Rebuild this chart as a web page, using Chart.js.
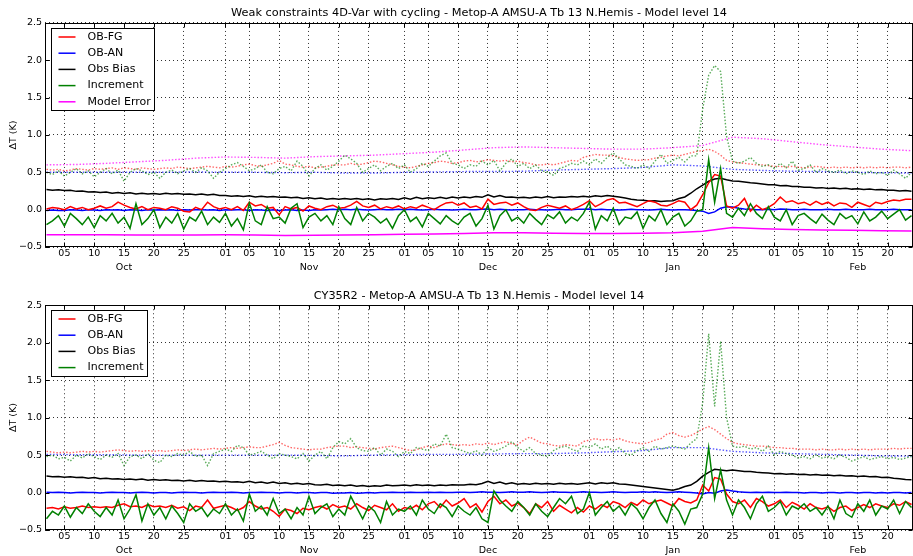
<!DOCTYPE html>
<html lang="en">
<head>
<meta charset="UTF-8">
<title>Metop-A AMSU-A Tb 13 N.Hemis - Model level 14</title>
<script src="https://cdn.jsdelivr.net/npm/chart.js"></script>
<style>
  body { margin: 0; background: #fff; }
  .panel { position: relative; width: 913px; height: 278px; }
</style>
</head>
<body>
<div class="panel"><canvas id="topChart"></canvas></div>
<div class="panel"><canvas id="bottomChart"></canvas></div>

<script>
// x values are days since 1 Oct (00 UTC); daily series run 2 Oct .. 24 Feb
const days = Array.from({length: 146}, (_, i) => i + 1);
// smooth series are read every 5 days
const coarseDays = Array.from({length: 30}, (_, i) => 1 + 5 * i);

const tickDays   = [4, 9, 14, 19, 24, 31, 35, 40, 45, 50, 55, 61, 65, 70, 75, 80, 85, 92, 96, 101, 106, 111, 116, 123, 127, 132, 137, 142];
const tickLabels = ["05","10","15","20","25","01","05","10","15","20","25","01","05","10","15","20","25","01","05","10","15","20","25","01","05","10","15","20"];
const monthDays  = [14, 45, 75, 106, 137];
const monthNames = ["Oct", "Nov", "Dec", "Jan", "Feb"];

const legendNamesTop    = ["OB-FG", "OB-AN", "Obs Bias", "Increment", "Model Error"];
const legendNamesBottom = ["OB-FG", "OB-AN", "Obs Bias", "Increment"];

// ---- top panel: weak constraints 4D-Var with cycling ----
const topObFgMean = [
  0.01,0.03,0.02,0.0,0.04,0.01,0.03,0.0,0.02,0.05,
  0.02,0.04,0.1,0.06,0.03,0.01,0.04,0.0,0.03,0.02,
  0.0,0.04,0.02,-0.02,-0.03,0.03,0.0,0.1,0.04,0.01,
  0.03,0.0,0.04,-0.01,0.1,0.05,0.07,0.02,0.03,-0.07,
  0.04,0.01,0.03,-0.02,0.05,0.02,0.0,0.04,0.06,0.02,
  0.03,0.06,0.11,0.05,0.03,0.06,0.01,0.04,0.02,0.05,
  0.01,0.04,0.02,0.06,0.03,0.0,0.05,0.09,0.1,0.06,
  0.09,0.03,0.05,0.01,0.14,0.07,0.09,0.1,0.06,0.09,
  0.04,0.0,-0.01,0.03,0.06,0.04,0.02,0.05,0.0,0.03,
  0.07,0.12,0.04,0.08,0.13,0.15,0.09,0.1,0.07,0.04,
  0.08,0.12,0.1,0.06,0.05,0.08,0.12,0.1,0.0,0.06,
  0.2,0.36,0.47,0.45,0.05,0.02,0.06,0.15,-0.02,0.06,
  0.0,0.03,0.08,0.17,0.1,0.12,0.08,0.1,0.06,0.11,
  0.07,0.1,0.05,0.09,0.08,0.03,0.1,0.07,0.04,0.1,
  0.08,0.11,0.13,0.12,0.14,0.14
];
const topObFgStd = [
  0.54,0.53,0.54,0.52,0.53,0.55,0.54,0.53,0.55,0.54,
  0.55,0.56,0.54,0.56,0.55,0.54,0.56,0.55,0.54,0.55,
  0.56,0.55,0.57,0.56,0.55,0.56,0.57,0.58,0.57,0.56,
  0.58,0.57,0.58,0.6,0.61,0.59,0.58,0.6,0.62,0.66,
  0.61,0.6,0.58,0.57,0.58,0.56,0.57,0.58,0.6,0.6,
  0.6,0.62,0.6,0.61,0.63,0.65,0.64,0.62,0.6,0.58,
  0.57,0.56,0.58,0.6,0.62,0.63,0.65,0.64,0.62,0.63,
  0.65,0.66,0.64,0.65,0.67,0.66,0.65,0.66,0.64,0.65,
  0.63,0.62,0.6,0.6,0.61,0.6,0.62,0.64,0.66,0.65,
  0.7,0.72,0.74,0.73,0.73,0.72,0.7,0.68,0.67,0.66,
  0.665,0.67,0.69,0.7,0.72,0.73,0.72,0.74,0.76,0.78,
  0.79,0.81,0.78,0.73,0.66,0.64,0.63,0.62,0.61,0.6,
  0.6,0.59,0.58,0.58,0.57,0.58,0.57,0.56,0.57,0.58,
  0.57,0.56,0.57,0.56,0.57,0.56,0.57,0.56,0.57,0.56,
  0.57,0.56,0.57,0.57,0.56,0.57
];
const topObAnMean = [
  -0.01,-0.005,-0.01,-0.01,0,-0.005,-0.01,0,-0.005,-0.01,
  0,-0.005,0,-0.01,0,-0.005,-0.01,0,-0.005,0,
  -0.005,0,-0.01,0,-0.005,0,0,-0.005,0,-0.01,
  0,-0.005,0,0,-0.01,0,-0.005,-0.01,0,-0.01,
  -0.005,0,-0.01,-0.005,-0.01,0,-0.005,0,0.005,0,
  0.005,0,0.005,0,-0.005,0,0.005,0,0,0.005,
  0,0.005,0,-0.005,0,0.005,0,0,-0.005,0,
  0.005,0,0,0.005,0.01,0,0.005,0,-0.005,0,
  0,0.005,0,0,-0.005,0,0.005,0,0,0.005,
  0.005,0.01,0,0.005,0,0,-0.005,0,0.005,0,
  0,-0.005,0,0.005,0,-0.005,0,0,-0.005,-0.01,
  -0.02,-0.05,-0.03,0.02,0.04,0.035,0.02,0.01,0.005,0,
  0,0.005,0,0.01,0.005,0,0,0.005,0,0,
  0,0.005,0,0,0.005,0,0,0,0.005,0,
  0,0,0.005,0,0,0
];
const topObAnStd = [
  0.5,0.5,0.5,0.5,0.5,0.505,0.5,0.5,0.495,0.5,
  0.49,0.49,0.5,0.505,0.51,0.51,0.515,0.53,0.54,0.55,
  0.565,0.6,0.585,0.54,0.525,0.515,0.51,0.5,0.495,0.49
];
const topObsBias = [
  0.27,0.26,0.265,0.255,0.26,0.245,0.25,0.235,0.24,0.23,
  0.235,0.22,0.23,0.215,0.225,0.21,0.22,0.21,0.215,0.205,
  0.22,0.21,0.215,0.205,0.21,0.2,0.21,0.195,0.205,0.19,
  0.19,0.18,0.185,0.175,0.185,0.17,0.18,0.17,0.175,0.165,
  0.17,0.16,0.165,0.15,0.16,0.145,0.155,0.14,0.15,0.14,
  0.15,0.14,0.15,0.135,0.145,0.13,0.145,0.14,0.15,0.135,
  0.16,0.14,0.165,0.145,0.16,0.15,0.165,0.15,0.17,0.155,
  0.17,0.16,0.175,0.165,0.2,0.17,0.19,0.165,0.17,0.16,
  0.165,0.155,0.17,0.16,0.175,0.16,0.17,0.165,0.175,0.17,
  0.18,0.17,0.185,0.175,0.19,0.18,0.17,0.155,0.14,0.13,
  0.125,0.115,0.12,0.11,0.115,0.12,0.15,0.17,0.22,0.28,
  0.33,0.38,0.41,0.42,0.4,0.385,0.38,0.37,0.36,0.355,
  0.345,0.335,0.335,0.32,0.325,0.31,0.31,0.3,0.3,0.29,
  0.295,0.285,0.29,0.28,0.285,0.275,0.28,0.27,0.275,0.265,
  0.27,0.26,0.26,0.25,0.255,0.245
];
const topIncMean = [
  -0.2,-0.15,-0.08,-0.22,-0.05,-0.12,-0.2,-0.1,-0.24,-0.08,
  -0.15,-0.05,-0.18,-0.1,-0.25,0.08,-0.2,-0.12,0.0,-0.24,
  -0.1,-0.18,-0.05,-0.26,-0.1,-0.15,-0.02,-0.2,-0.1,-0.17,
  -0.05,-0.22,-0.12,-0.27,0.09,-0.15,-0.2,0.04,-0.12,-0.1,
  -0.18,0.02,0.08,-0.24,-0.1,-0.05,-0.15,-0.08,-0.2,0.04,
  -0.12,-0.2,0.03,-0.15,-0.05,-0.1,-0.18,-0.12,-0.25,-0.08,
  0.0,-0.16,-0.1,-0.23,-0.05,-0.12,-0.19,-0.08,-0.15,-0.2,
  -0.1,-0.05,-0.22,-0.12,0.06,-0.26,-0.08,0.0,-0.15,-0.1,
  -0.18,-0.05,-0.13,-0.2,-0.07,-0.12,-0.03,-0.18,-0.1,-0.15,
  -0.05,0.1,-0.26,-0.08,-0.15,0.02,-0.2,-0.1,-0.12,-0.03,
  -0.25,-0.08,-0.15,0.0,-0.2,-0.1,-0.05,-0.22,-0.15,-0.02,
  0.0,0.67,0.1,0.55,-0.05,-0.1,0.02,-0.08,0.08,-0.05,
  -0.12,0.04,-0.1,-0.15,0.0,-0.2,-0.08,-0.05,-0.12,-0.18,
  -0.06,-0.14,-0.2,-0.05,-0.12,-0.08,-0.19,-0.03,-0.15,-0.1,
  -0.02,-0.12,-0.06,0.0,-0.14,-0.08
];
const topIncStd = [
  0.5,0.47,0.52,0.45,0.5,0.55,0.48,0.52,0.44,0.5,
  0.55,0.48,0.53,0.38,0.5,0.55,0.52,0.47,0.5,0.42,
  0.5,0.53,0.48,0.52,0.55,0.5,0.56,0.52,0.42,0.5,
  0.55,0.6,0.63,0.58,0.52,0.55,0.6,0.5,0.48,0.55,
  0.58,0.52,0.65,0.58,0.45,0.55,0.6,0.53,0.58,0.65,
  0.73,0.68,0.62,0.5,0.55,0.6,0.52,0.58,0.62,0.55,
  0.6,0.5,0.55,0.62,0.58,0.65,0.72,0.76,0.62,0.6,
  0.55,0.6,0.58,0.65,0.6,0.66,0.52,0.62,0.68,0.58,
  0.62,0.55,0.6,0.52,0.5,0.46,0.55,0.58,0.62,0.6,
  0.65,0.6,0.68,0.62,0.7,0.76,0.68,0.6,0.58,0.55,
  0.6,0.55,0.65,0.74,0.62,0.66,0.7,0.64,0.72,0.72,
  1.35,1.8,1.93,1.85,0.98,0.65,0.62,0.65,0.7,0.62,
  0.58,0.6,0.55,0.62,0.56,0.65,0.53,0.55,0.6,0.5,
  0.55,0.52,0.5,0.53,0.48,0.52,0.5,0.47,0.52,0.48,
  0.5,0.46,0.53,0.48,0.42,0.5
];
const topModErrMean = [
  -0.335,-0.335,-0.337,-0.34,-0.34,-0.338,-0.335,-0.34,-0.345,-0.342,
  -0.338,-0.335,-0.33,-0.325,-0.318,-0.31,-0.31,-0.315,-0.318,-0.32,
  -0.315,-0.31,-0.29,-0.24,-0.255,-0.265,-0.272,-0.277,-0.282,-0.285
];
const topModErrStd = [
  0.6,0.605,0.62,0.64,0.66,0.69,0.705,0.7,0.69,0.71,
  0.72,0.73,0.75,0.77,0.8,0.83,0.84,0.83,0.82,0.81,
  0.81,0.83,0.86,0.97,0.95,0.91,0.87,0.84,0.81,0.79
];

// ---- bottom panel: CY35R2 ----
const cyObFgMean = [
  -0.21,-0.2,-0.22,-0.19,-0.21,-0.2,-0.18,-0.2,-0.19,-0.2,
  -0.19,-0.2,-0.17,-0.15,-0.19,-0.18,-0.2,-0.16,-0.19,-0.18,
  -0.2,-0.17,-0.21,-0.19,-0.24,-0.18,-0.2,-0.1,-0.21,-0.19,
  -0.17,-0.2,-0.24,-0.2,-0.12,-0.18,-0.22,-0.2,-0.25,-0.32,
  -0.22,-0.24,-0.28,-0.21,-0.23,-0.2,-0.18,-0.22,-0.16,-0.2,
  -0.18,-0.22,-0.15,-0.2,-0.24,-0.17,-0.2,-0.23,-0.15,-0.25,
  -0.2,-0.22,-0.17,-0.23,-0.15,-0.12,-0.2,-0.1,-0.18,-0.14,
  -0.08,-0.2,-0.15,-0.26,-0.12,-0.05,-0.15,-0.1,-0.18,-0.14,
  -0.2,-0.28,-0.15,-0.2,-0.12,-0.25,-0.17,-0.22,-0.27,-0.2,
  -0.26,-0.18,-0.22,-0.16,-0.2,-0.12,-0.15,-0.2,-0.13,-0.17,
  -0.1,-0.15,-0.12,-0.1,-0.14,-0.18,-0.08,-0.12,-0.14,-0.1,
  0.1,0.02,0.2,0.18,-0.02,-0.12,-0.15,-0.1,-0.2,-0.08,
  -0.12,-0.18,-0.15,-0.1,-0.2,-0.13,-0.17,-0.22,-0.15,-0.2,
  -0.22,-0.19,-0.25,-0.2,-0.18,-0.24,-0.2,-0.16,-0.2,-0.15,
  -0.18,-0.2,-0.15,-0.17,-0.12,-0.16
];
const cyObFgStd = [
  0.55,0.54,0.53,0.54,0.53,0.54,0.55,0.54,0.55,0.54,
  0.55,0.56,0.57,0.56,0.55,0.56,0.55,0.56,0.55,0.56,
  0.55,0.56,0.57,0.56,0.57,0.58,0.57,0.58,0.59,0.58,
  0.59,0.6,0.59,0.6,0.61,0.6,0.6,0.62,0.64,0.67,
  0.63,0.6,0.59,0.58,0.57,0.58,0.58,0.6,0.61,0.62,
  0.62,0.6,0.61,0.6,0.59,0.58,0.6,0.61,0.62,0.6,
  0.58,0.56,0.57,0.6,0.62,0.6,0.63,0.65,0.64,0.63,
  0.64,0.63,0.65,0.64,0.66,0.64,0.66,0.68,0.65,0.64,
  0.7,0.74,0.7,0.66,0.65,0.63,0.62,0.64,0.63,0.62,
  0.68,0.7,0.72,0.7,0.71,0.7,0.72,0.69,0.67,0.66,
  0.65,0.67,0.7,0.72,0.78,0.8,0.76,0.74,0.76,0.8,
  0.85,0.88,0.84,0.78,0.72,0.67,0.65,0.64,0.63,0.62,
  0.62,0.61,0.6,0.6,0.59,0.59,0.58,0.58,0.58,0.57,
  0.58,0.57,0.57,0.58,0.57,0.58,0.57,0.58,0.57,0.58,
  0.58,0.58,0.59,0.58,0.59,0.59
];
const cyObAnMean = [
  0.005,0,0.005,0,-0.005,0,0.005,0,0,-0.005,
  0,0.005,0,0,-0.005,0,0.005,0,-0.005,0,
  0,-0.005,0,0.005,0,0,-0.005,0,0.005,0,
  0,0.005,0,-0.005,0,0,0.005,0,0,-0.005,
  0,0,-0.005,0,0,-0.005,0,0,-0.01,-0.005,
  -0.005,0,-0.01,-0.005,0,-0.005,0,0,0.005,0,
  0,0.005,0,0,0.005,0,0.005,0,0,0.005,
  0.005,0,0.005,0.01,0.005,0.005,0,0.005,0.01,0.005,
  0.005,0.01,0.005,0,0.005,0.01,0.005,0.005,0,0.005,
  0.01,0.005,0.005,0,0.005,0.01,0.005,0,0.005,0.005,
  0.01,0.005,0.01,0.005,0,0.005,0.01,0.005,0,-0.005,
  -0.02,0.0,-0.01,0.02,0.035,0.02,0.01,0.005,0,0.005,
  0,0.005,0,0,0.005,0,0,-0.005,0,0,
  -0.005,0,0,-0.005,0,0,-0.005,0,0,-0.005,
  0,-0.005,0,0,-0.005,0
];
const cyObAnStd = [
  0.51,0.505,0.505,0.5,0.5,0.5,0.5,0.5,0.5,0.495,
  0.49,0.5,0.505,0.51,0.51,0.515,0.52,0.52,0.53,0.545,
  0.56,0.6,0.6,0.55,0.53,0.52,0.51,0.5,0.49,0.485
];
const cyObsBias = [
  0.22,0.21,0.215,0.205,0.21,0.2,0.205,0.19,0.2,0.185,
  0.19,0.18,0.185,0.175,0.18,0.17,0.18,0.165,0.175,0.165,
  0.17,0.16,0.165,0.155,0.165,0.15,0.16,0.15,0.155,0.145,
  0.15,0.14,0.145,0.135,0.15,0.13,0.14,0.125,0.14,0.12,
  0.13,0.115,0.125,0.11,0.12,0.105,0.1,0.11,0.095,0.1,
  0.09,0.1,0.085,0.095,0.08,0.09,0.085,0.1,0.09,0.095,
  0.1,0.09,0.105,0.095,0.1,0.09,0.1,0.095,0.105,0.1,
  0.1,0.11,0.105,0.12,0.15,0.12,0.14,0.115,0.13,0.11,
  0.12,0.11,0.125,0.115,0.12,0.11,0.125,0.115,0.12,0.11,
  0.12,0.13,0.115,0.13,0.12,0.13,0.115,0.11,0.1,0.09,
  0.08,0.07,0.06,0.05,0.04,0.03,0.05,0.08,0.1,0.15,
  0.22,0.27,0.31,0.3,0.29,0.3,0.29,0.28,0.28,0.27,
  0.265,0.26,0.25,0.255,0.245,0.25,0.24,0.245,0.235,0.24,
  0.23,0.235,0.225,0.23,0.22,0.225,0.215,0.22,0.21,0.215,
  0.2,0.205,0.19,0.185,0.175,0.17
];
const cyIncMean = [
  -0.35,-0.25,-0.3,-0.18,-0.33,-0.2,-0.28,-0.15,-0.25,-0.32,
  -0.2,-0.3,-0.1,-0.35,-0.22,-0.03,-0.38,-0.15,-0.3,-0.2,
  -0.35,-0.18,-0.28,-0.4,-0.15,-0.25,-0.2,-0.32,-0.22,-0.28,
  -0.15,-0.3,-0.22,-0.38,-0.02,-0.25,-0.18,-0.3,-0.08,-0.28,
  -0.22,-0.35,-0.2,-0.3,-0.05,-0.28,-0.2,-0.15,-0.32,-0.22,
  -0.3,-0.05,-0.2,-0.35,-0.18,-0.25,-0.4,-0.12,-0.3,-0.22,
  -0.25,-0.18,-0.3,-0.1,-0.22,-0.28,-0.15,-0.2,-0.32,-0.18,
  -0.25,-0.3,-0.2,-0.35,-0.4,0.02,-0.1,-0.18,-0.25,-0.12,
  -0.2,-0.3,-0.15,-0.25,-0.32,-0.2,-0.08,-0.15,-0.05,-0.28,
  -0.22,0.0,-0.3,-0.2,-0.12,-0.25,-0.18,-0.3,-0.15,-0.22,
  -0.35,-0.2,-0.1,-0.28,-0.4,-0.15,-0.25,-0.42,-0.22,-0.2,
  -0.02,0.6,-0.08,0.3,-0.1,-0.3,-0.1,-0.2,-0.35,-0.15,
  -0.05,-0.25,-0.2,-0.12,-0.3,-0.18,-0.22,-0.15,-0.25,-0.2,
  -0.3,-0.18,-0.35,-0.1,-0.28,-0.33,-0.15,-0.25,-0.1,-0.3,
  -0.18,-0.22,-0.1,-0.28,-0.12,-0.2
];
const cyIncStd = [
  0.48,0.5,0.45,0.47,0.42,0.5,0.46,0.52,0.48,0.44,
  0.5,0.47,0.52,0.36,0.48,0.5,0.45,0.52,0.43,0.4,
  0.5,0.48,0.52,0.5,0.55,0.48,0.5,0.36,0.52,0.55,
  0.58,0.55,0.63,0.6,0.5,0.52,0.55,0.5,0.45,0.52,
  0.5,0.48,0.45,0.52,0.42,0.5,0.55,0.45,0.6,0.68,
  0.65,0.72,0.6,0.56,0.55,0.6,0.5,0.58,0.55,0.48,
  0.55,0.52,0.6,0.58,0.56,0.65,0.62,0.78,0.6,0.58,
  0.55,0.52,0.56,0.5,0.6,0.55,0.58,0.62,0.68,0.6,
  0.55,0.6,0.52,0.5,0.48,0.56,0.6,0.62,0.58,0.55,
  0.62,0.6,0.65,0.58,0.62,0.55,0.6,0.52,0.5,0.56,
  0.6,0.55,0.62,0.58,0.6,0.62,0.6,0.58,0.66,0.72,
  1.2,2.12,1.15,2.02,1.0,0.62,0.6,0.62,0.58,0.6,
  0.55,0.62,0.5,0.55,0.52,0.5,0.46,0.48,0.45,0.5,
  0.46,0.48,0.45,0.5,0.47,0.42,0.45,0.48,0.44,0.46,
  0.48,0.45,0.47,0.44,0.46,0.48
];

const RED = "#ff0000", BLUE = "#0000ff", BLACK = "#000000", GREEN = "#008000", MAGENTA = "#ff00ff";
// dotted (std dev) curves look paler in the original
const RED_DOT = "rgba(255,0,0,0.6)", BLUE_DOT = "rgba(0,0,255,0.65)", GREEN_DOT = "rgba(0,128,0,0.65)", MAGENTA_DOT = "rgba(255,0,255,0.7)";
const FONT = "'DejaVu Sans', 'Liberation Sans', sans-serif";

function series(xs, ys, color, dotted) {
  return {
    data: xs.map((x, i) => ({x: x, y: ys[i]})),
    borderColor: color,
    borderWidth: dotted ? 1.4 : 1.5,
    borderDash: dotted ? [1.5, 1.8] : [],
    pointRadius: 0,
    tension: 0,
    fill: false
  };
}

// frame, inward ticks and the boxed legend in the upper-left corner
const frameLegend = {
  id: "frameLegend",
  afterDatasetsDraw(chart, args, opts) {
    const ctx = chart.ctx;
    const a = chart.chartArea;
    const l = Math.round(a.left) + 0.5, r = Math.round(a.right) - 0.5;
    const t = Math.round(a.top) + 0.5, b = Math.round(a.bottom) - 0.5;
    ctx.save();
    ctx.strokeStyle = "#000";
    ctx.lineWidth = 1;
    ctx.strokeRect(l, t, r - l, b - t);

    ctx.beginPath();
    chart.scales.x.ticks.forEach(tk => {
      const px = Math.round(chart.scales.x.getPixelForValue(tk.value)) + 0.5;
      ctx.moveTo(px, b); ctx.lineTo(px, b - 4);
      ctx.moveTo(px, t); ctx.lineTo(px, t + 4);
    });
    chart.scales.y.ticks.forEach(tk => {
      const py = Math.round(chart.scales.y.getPixelForValue(tk.value)) + 0.5;
      ctx.moveTo(l, py); ctx.lineTo(l + 4, py);
      ctx.moveTo(r, py); ctx.lineTo(r - 4, py);
    });
    ctx.stroke();

    const items = opts.items;
    ctx.font = "11px " + FONT;
    const textW = Math.max(...items.map(it => ctx.measureText(it.label).width));
    const x0 = Math.round(a.left) + 6.5, y0 = Math.round(a.top) + 5.5;
    const w = Math.round(36 + textW + 4), h = Math.round(17 + (items.length - 1) * 16.2);
    ctx.fillStyle = "#fff";
    ctx.fillRect(x0, y0, w, h);
    ctx.strokeStyle = "#000";
    ctx.strokeRect(x0, y0, w, h);
    items.forEach((it, i) => {
      const y = y0 + 8.5 + i * 16.2;
      ctx.strokeStyle = it.color;
      ctx.lineWidth = 1.5;
      ctx.beginPath();
      ctx.moveTo(x0 + 7, y); ctx.lineTo(x0 + 24, y);
      ctx.stroke();
      ctx.fillStyle = "#000";
      ctx.textBaseline = "middle";
      ctx.textAlign = "left";
      ctx.fillText(it.label, x0 + 36, y);
    });
    ctx.restore();
  }
};

function makeChart(id, title, datasets, legendItems, padTop, xHeight) {
  return new Chart(document.getElementById(id), {
    type: "line",
    data: { datasets: datasets },
    options: {
      responsive: true,
      maintainAspectRatio: false,
      animation: false,
      devicePixelRatio: 1,
      layout: { padding: { top: padTop, left: 0, right: 0, bottom: 0 } },
      plugins: {
        legend: { display: false },
        tooltip: { enabled: false },
        title: {
          display: true,
          fullSize: false,
          text: title,
          color: "#000",
          font: { family: FONT, size: 11.3, weight: "normal", lineHeight: 1.2 },
          padding: { top: 6.6, bottom: 2.8 }
        },
        frameLegend: { items: legendItems }
      },
      scales: {
        x: {
          type: "linear",
          min: 0.75,
          max: 146.25,
          afterBuildTicks: s => { s.ticks = tickDays.map(v => ({value: v})); },
          afterFit: s => { s.height = xHeight; },
          grid: { color: "rgba(0,0,0,0.8)", lineWidth: 1, drawTicks: false },
          border: { display: false, dash: [1, 3] },
          ticks: {
            autoSkip: false,
            maxRotation: 0,
            padding: 0,
            color: "#000",
            font: { family: FONT, size: 9.5, lineHeight: "14px" },
            callback: v => {
              const i = tickDays.indexOf(v);
              const m = monthDays.indexOf(v);
              return m >= 0 ? [tickLabels[i], monthNames[m]] : tickLabels[i];
            }
          }
        },
        y: {
          min: -0.5,
          max: 2.5,
          afterFit: s => { s.width = 45; },
          grid: { color: "rgba(0,0,0,0.8)", lineWidth: 1, drawTicks: false },
          border: { display: false, dash: [1, 3] },
          ticks: {
            stepSize: 0.5,
            padding: 3,
            color: "#000",
            font: { family: FONT, size: 9.5 },
            callback: v => v.toFixed(1).replace("-", "\u2212")
          },
          title: {
            display: true,
            text: "\u0394T (K)",
            color: "#000",
            font: { family: FONT, size: 9.5 },
            padding: { top: 7.5, bottom: 0 }
          }
        }
      }
    },
    plugins: [frameLegend]
  });
}

// index 0 is drawn on top
makeChart("topChart",
  "Weak constraints 4D-Var with cycling - Metop-A AMSU-A Tb 13 N.Hemis - Model level 14",
  [
    series(days, topIncMean, GREEN, false),
    series(days, topObFgMean, RED, false),
    series(days, topObAnMean, BLUE, false),
    series(days, topObsBias, BLACK, false),
    series(coarseDays, topModErrMean, MAGENTA, false),
    series(days, topIncStd, GREEN_DOT, true),
    series(days, topObFgStd, RED_DOT, true),
    series(coarseDays, topObAnStd, BLUE_DOT, true),
    series(coarseDays, topModErrStd, MAGENTA_DOT, true)
  ],
  legendNamesTop.map((n, i) => ({label: n, color: [RED, BLUE, BLACK, GREEN, MAGENTA][i]})),
  0, 31);

makeChart("bottomChart",
  "CY35R2 - Metop-A AMSU-A Tb 13 N.Hemis - Model level 14",
  [
    series(days, cyIncMean, GREEN, false),
    series(days, cyObFgMean, RED, false),
    series(days, cyObAnMean, BLUE, false),
    series(days, cyObsBias, BLACK, false),
    series(days, cyIncStd, GREEN_DOT, true),
    series(days, cyObFgStd, RED_DOT, true),
    series(coarseDays, cyObAnStd, BLUE_DOT, true)
  ],
  legendNamesBottom.map((n, i) => ({label: n, color: [RED, BLUE, BLACK, GREEN][i]})),
  4.3, 26);
</script>
</body>
</html>
